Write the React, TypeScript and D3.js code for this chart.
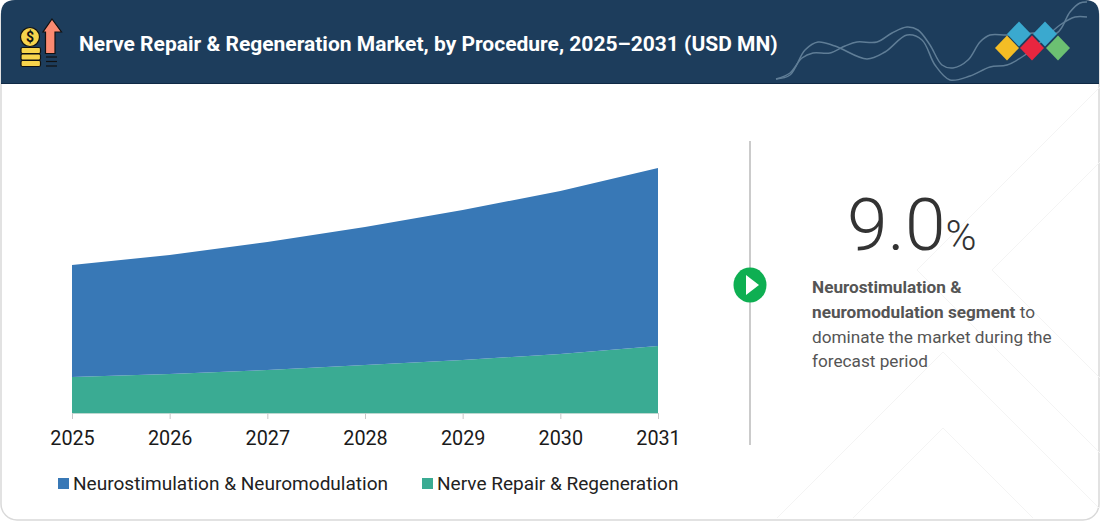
import React, { useEffect, useRef } from "react";
import * as d3 from "d3";

const years = ["2025", "2026", "2027", "2028", "2029", "2030", "2031"];
const neurostimulation = [112, 119, 128, 138, 150, 163, 178];
const nerveRepair = [36, 39, 43, 48, 53, 59, 67];
const seriesNames = ["Nerve Repair & Regeneration", "Neurostimulation & Neuromodulation"];
const seriesColors = ["#3aab93", "#3878b6"];

const width = 1100;
const height = 521;
const font = "Roboto, sans-serif";

export default function App() {
  const ref = useRef<SVGSVGElement | null>(null);

  useEffect(() => {
    const root = d3.select(ref.current);
    root.selectAll("*").remove();
    const svg = root.attr("width", width).attr("height", height);

    // Card and faint background chevrons
    svg
      .append("rect")
      .attr("x", 1)
      .attr("y", 1)
      .attr("width", width - 2)
      .attr("height", height - 2)
      .attr("rx", 16)
      .attr("fill", "#fff")
      .attr("stroke", "#d9d9d9")
      .attr("stroke-width", 1.5);

    const chevrons = [
      "M1100 87 L917 270 L1100 453",
      "M1100 162 L992 270 L1100 378",
      "M777 518 L943 352 L1099 508",
      "M853 518 L943 428 L1033 518",
    ];
    svg
      .append("g")
      .selectAll("path")
      .data(chevrons)
      .enter()
      .append("path")
      .attr("d", (d) => d)
      .attr("fill", "none")
      .attr("stroke", "#f4f4f4")
      .attr("stroke-width", 1);

    // Header band
    svg
      .append("path")
      .attr("d", `M1 84 V14 Q1 0 15 0 H${width - 15} Q${width - 1} 0 ${width - 1} 14 V84 Z`)
      .attr("fill", "#1d3d5c");
    svg
      .append("line")
      .attr("x1", 1)
      .attr("x2", width - 1)
      .attr("y1", 83.5)
      .attr("y2", 83.5)
      .attr("stroke", "#0f2a45")
      .attr("stroke-width", 1);

    svg
      .append("text")
      .attr("x", 79)
      .attr("y", 51)
      .attr("fill", "#fff")
      .style("font-family", font)
      .style("font-weight", 700)
      .style("font-size", "21px")
      .text("Nerve Repair & Regeneration Market, by Procedure, 2025–2031 (USD MN)");

    // Header waves
    const waves: [number, number][][] = [
      [[776, 79], [790, 75], [805, 50], [818, 42], [835, 46], [867, 59], [885, 52], [907, 35], [922, 40], [935, 65], [950, 80], [970, 76], [990, 67], [1007, 65], [1025, 55], [1043, 40], [1060, 25], [1075, 17], [1087, 17]],
      [[776, 79], [790, 73], [802, 58], [813, 53], [830, 53], [845, 46], [857, 42], [877, 42], [892, 33], [907, 27], [918, 30], [930, 45], [942, 65], [953, 68], [968, 60], [980, 42], [990, 35], [1007, 35], [1033, 33], [1057, 33], [1070, 12], [1080, 3], [1087, 2]],
    ];
    const waveLine = d3.line().curve(d3.curveCatmullRom);
    svg
      .append("g")
      .selectAll("path")
      .data(waves)
      .enter()
      .append("path")
      .attr("d", (d) => waveLine(d) ?? "")
      .attr("fill", "none")
      .attr("stroke", "#5f7d96")
      .attr("stroke-width", 1.5);

    // Logo diamonds
    const diamonds = [
      { cx: 1007, cy: 48, fill: "#f4bd25" },
      { cx: 1019, cy: 34, fill: "#3aa9cf" },
      { cx: 1032, cy: 48, fill: "#e8263f" },
      { cx: 1045, cy: 34, fill: "#3aa9cf" },
      { cx: 1058, cy: 48, fill: "#6cc072" },
    ];
    svg
      .append("g")
      .selectAll("path")
      .data(diamonds)
      .enter()
      .append("path")
      .attr("d", (d) => `M${d.cx} ${d.cy - 12.5} L${d.cx + 12} ${d.cy} L${d.cx} ${d.cy + 12.5} L${d.cx - 12} ${d.cy} Z`)
      .attr("fill", (d) => d.fill);

    // Header icon: coins and arrow
    const icon = svg.append("g").attr("stroke", "#111").attr("stroke-width", 1.2);
    icon.append("circle").attr("cx", 30).attr("cy", 37).attr("r", 9.5).attr("fill", "#f7d44c");
    icon
      .append("text")
      .attr("x", 30)
      .attr("y", 42)
      .attr("text-anchor", "middle")
      .attr("fill", "#111")
      .attr("stroke", "none")
      .style("font-family", font)
      .style("font-weight", 700)
      .style("font-size", "14px")
      .text("$");
    [47.5, 54, 60.5].forEach((y) => {
      icon.append("rect").attr("x", 21).attr("y", y).attr("width", 19.5).attr("height", 6).attr("rx", 1.5).attr("fill", "#f7d44c");
    });
    icon
      .append("path")
      .attr("d", "M52 19 L61.5 32 L55 32 L55 53.5 L45.5 53.5 L45.5 32 L43 32 Z")
      .attr("fill", "#fb8a71");
    [57, 61.5, 66].forEach((y) => {
      icon.append("line").attr("x1", 46).attr("x2", 57).attr("y1", y).attr("y2", y);
    });

    // Chart
    const x = d3
      .scalePoint<string>()
      .domain(years)
      .range([72, 658]);
    const y = d3.scaleLinear().domain([0, 245]).range([413, 168]);

    const rows = years.map((year, i) => ({
      year,
      repair: nerveRepair[i],
      stim: neurostimulation[i],
    }));
    const stacked = d3.stack<(typeof rows)[number]>().keys(["repair", "stim"])(rows as any);

    const area = d3
      .area<d3.SeriesPoint<(typeof rows)[number]>>()
      .x((d) => x(d.data.year) ?? 0)
      .y0((d) => y(d[0]))
      .y1((d) => y(d[1]));

    svg
      .append("g")
      .selectAll("path")
      .data(stacked)
      .enter()
      .append("path")
      .attr("d", (d) => area(d) ?? "")
      .attr("fill", (_, i) => seriesColors[i]);

    const axis = svg
      .append("g")
      .attr("transform", `translate(0,${y(0)})`)
      .call(d3.axisBottom(x).tickSize(6).tickPadding(12));
    axis.select(".domain").attr("stroke", "#bcd8d0");
    axis.selectAll(".tick line").attr("stroke", "#c8c8c8");
    axis
      .selectAll("text")
      .attr("fill", "#1a1a1a")
      .style("font-family", font)
      .style("font-size", "19.8px");

    // Legend
    const legend = [
      { label: seriesNames[1], color: seriesColors[1], box: 58, text: 73 },
      { label: seriesNames[0], color: seriesColors[0], box: 422, text: 437 },
    ];
    legend.forEach((d) => {
      svg.append("rect").attr("x", d.box).attr("y", 478).attr("width", 11).attr("height", 11).attr("fill", d.color);
      svg
        .append("text")
        .attr("x", d.text)
        .attr("y", 490)
        .attr("fill", "#222")
        .style("font-family", font)
        .style("font-size", "19.06px")
        .text(d.label);
    });

    // Divider with marker
    svg
      .append("line")
      .attr("x1", 750)
      .attr("x2", 750)
      .attr("y1", 141)
      .attr("y2", 445)
      .attr("stroke", "#a8a8a8")
      .attr("stroke-width", 1.2);
    svg
      .append("ellipse")
      .attr("cx", 750)
      .attr("cy", 285)
      .attr("rx", 16.5)
      .attr("ry", 17.5)
      .attr("fill", "#0eaf52");
    svg.append("path").attr("d", "M746 275 L759 285 L746 295 Z").attr("fill", "#fff");

    // Callout
    const callout = svg.append("text").attr("y", 250).attr("fill", "#333").style("font-family", font);
    callout.append("tspan").attr("x", 847).style("font-size", "73px").style("font-weight", 300).text("9.0");
    callout.append("tspan").style("font-size", "42px").style("font-weight", 300).text("%");

    const lines = [
      [{ t: "Neurostimulation &", b: true }],
      [
        { t: "neuromodulation segment", b: true },
        { t: " to", b: false },
      ],
      [{ t: "dominate the market during the", b: false }],
      [{ t: "forecast period", b: false }],
    ];
    lines.forEach((parts, i) => {
      const line = svg
        .append("text")
        .attr("x", 812)
        .attr("y", 293 + i * 24.8)
        .attr("fill", "#555")
        .style("font-family", font)
        .style("font-size", "17.2px");
      parts.forEach((p) => {
        line.append("tspan").style("font-weight", p.b ? 700 : 400).text(p.t);
      });
    });
  }, []);

  return <svg ref={ref} style={{ position: "absolute", left: 0, top: 0 }} />;
}
